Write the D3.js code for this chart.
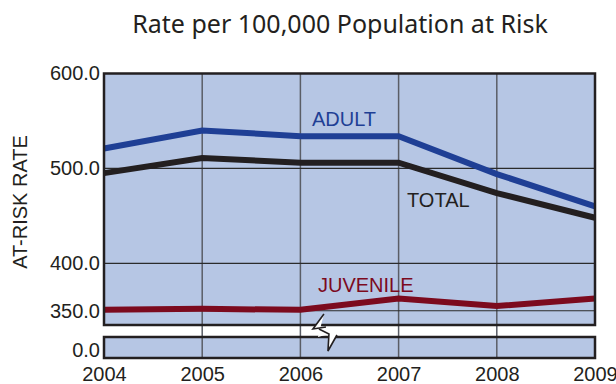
<!DOCTYPE html>
<html>
<head>
<meta charset="utf-8">
<script src="https://cdn.jsdelivr.net/npm/d3@7"></script>
<style>
  body { margin: 0; background: #fff; }
  svg { display: block; }
</style>
</head>
<body>
<div id="chart"></div>
<script>
var years = [2004, 2005, 2006, 2007, 2008, 2009];
var adult = [521, 540, 534, 534, 494, 460];
var total = [495, 511, 506, 506, 474, 448];
var juvenile = [351, 352, 351, 363, 355, 363];
var upperTicks = [600, 500, 400, 350];
var lowerTicks = [0];

var width = 616, height = 384;
var bg = "#b6c6e4";

var svg = d3.select("#chart")
  .append("svg")
    .attr("width", width)
    .attr("height", height);

var x = d3.scaleLinear()
    .domain([2004, 2009])
    .range([104, 595]);

// upper panel (broken axis) and the little 0.0 panel below it
var yTop = d3.scaleLinear()
    .domain([335, 600])
    .range([325, 73.5]);
var yBot = d3.scaleLinear()
    .domain([-8, 14])
    .range([358, 337]);

// title
svg.append("text")
  .attr("x", 340)
  .attr("y", 33)
  .attr("text-anchor", "middle")
  .style("font-family", "Noto Sans, sans-serif")
  .style("font-size", "25px")
  .style("fill", "#231f20")
  .text("Rate per 100,000 Population at Risk");

// backgrounds
svg.append("rect")
  .attr("x", x(2004)).attr("y", yTop(600))
  .attr("width", x(2009) - x(2004)).attr("height", yTop(335) - yTop(600))
  .style("fill", bg);
svg.append("rect")
  .attr("x", x(2004)).attr("y", yBot(14))
  .attr("width", x(2009) - x(2004)).attr("height", yBot(-8) - yBot(14))
  .style("fill", bg);

// vertical grid, runs through the gap too
svg.append("g")
  .selectAll("line")
  .data(years.slice(1, -1))
  .enter()
  .append("line")
    .attr("x1", function (d) { return x(d); })
    .attr("x2", function (d) { return x(d); })
    .attr("y1", yTop(600))
    .attr("y2", yBot(-8))
    .style("stroke", "#5a5d66")
    .style("stroke-width", 1.5);

// horizontal grid
svg.append("g")
  .selectAll("line")
  .data([500, 400, 350])
  .enter()
  .append("line")
    .attr("x1", x(2004))
    .attr("x2", x(2009))
    .attr("y1", function (d) { return yTop(d); })
    .attr("y2", function (d) { return yTop(d); })
    .style("stroke", "#2b2b2b")
    .style("stroke-width", 1.2);

// tick labels through axes
var axUp = svg.append("g")
  .attr("transform", "translate(" + (x(2004) - 4) + ",0)")
  .call(d3.axisLeft(yTop).tickValues(upperTicks).tickSize(0).tickPadding(0).tickFormat(d3.format(".1f")));
var axLo = svg.append("g")
  .attr("transform", "translate(" + (x(2004) - 4) + ",0)")
  .call(d3.axisLeft(yBot).tickValues(lowerTicks).tickSize(0).tickPadding(0).tickFormat(d3.format(".1f")));
var axX = svg.append("g")
  .attr("transform", "translate(0," + 362 + ")")
  .call(d3.axisBottom(x).tickValues(years).tickSize(0).tickPadding(0).tickFormat(d3.format("d")));

[axUp, axLo, axX].forEach(function (g) {
  g.select(".domain").remove();
  g.selectAll("text")
    .style("font-family", "Liberation Sans, Arial, sans-serif")
    .style("font-size", "20px")
    .style("fill", "#231f20");
});
axX.selectAll("text").attr("dy", "0.95em");

// y title
svg.append("text")
  .attr("transform", "translate(27,202) rotate(-90)")
  .attr("text-anchor", "middle")
  .style("font-family", "Liberation Sans, Arial, sans-serif")
  .style("font-size", "20px")
  .style("fill", "#231f20")
  .text("AT-RISK RATE");

// series lines
var line = d3.line()
  .x(function (d, i) { return x(years[i]); })
  .y(function (d) { return yTop(d); });

var series = [
  {name: "ADULT", values: adult, color: "#1f3f95", lx: 312, ly: 126},
  {name: "TOTAL", values: total, color: "#231f20", lx: 407, ly: 207},
  {name: "JUVENILE", values: juvenile, color: "#7c0a1e", lx: 318, ly: 292}
];

svg.append("g")
  .selectAll("path")
  .data(series)
  .enter()
  .append("path")
    .attr("d", function (d) { return line(d.values); })
    .style("fill", "none")
    .style("stroke", function (d) { return d.color; })
    .style("stroke-width", 6)
    .style("stroke-linejoin", "miter");

svg.append("g")
  .selectAll("text")
  .data(series)
  .enter()
  .append("text")
    .attr("x", function (d) { return d.lx; })
    .attr("y", function (d) { return d.ly; })
    .style("font-family", "Liberation Sans, Arial, sans-serif")
    .style("font-size", "20px")
    .style("fill", function (d) { return d.color; })
    .text(function (d) { return d.name; });

// panel borders
svg.append("rect")
  .attr("x", x(2004)).attr("y", yTop(600))
  .attr("width", x(2009) - x(2004)).attr("height", yTop(335) - yTop(600))
  .style("fill", "none").style("stroke", "#231f20").style("stroke-width", 2.5);
svg.append("rect")
  .attr("x", x(2004)).attr("y", yBot(14))
  .attr("width", x(2009) - x(2004)).attr("height", yBot(-8) - yBot(14))
  .style("fill", "none").style("stroke", "#231f20").style("stroke-width", 2.5);

// axis break mark
var bx = x(2006.25), by = (yTop(335) + yBot(14)) / 2;
svg.append("path")
  .attr("d", "M" + (bx - 1) + "," + (by - 17) + " L" + (bx - 12) + "," + (by - 2) +
             " L" + (bx + 1) + "," + (by - 4) + " L" + (bx + 12) + "," + (by + 4) +
             " L" + (bx + 3) + "," + (by + 20) + " L" + (bx + 4) + "," + (by + 3) +
             " L" + (bx - 7) + "," + (by + 6) + " Z")
  .style("fill", "#fff").style("stroke", "none");
svg.append("path")
  .attr("d", "M" + (bx - 1) + "," + (by - 17) + " L" + (bx - 12) + "," + (by - 2) +
             " L" + (bx + 1) + "," + (by - 4))
  .style("fill", "none").style("stroke", "#231f20").style("stroke-width", 1.6);
svg.append("path")
  .attr("d", "M" + (bx - 6) + "," + (by - 2) + " L" + (bx + 4) + "," + (by + 3) +
             " L" + (bx + 3) + "," + (by + 20) + " L" + (bx + 12) + "," + (by + 4))
  .style("fill", "none").style("stroke", "#231f20").style("stroke-width", 1.6);
</script>
</body>
</html>
